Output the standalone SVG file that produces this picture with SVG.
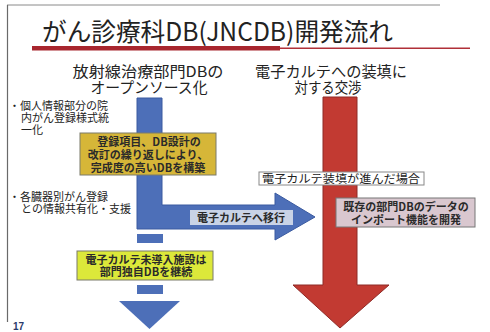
<svg xmlns="http://www.w3.org/2000/svg" width="490" height="332" viewBox="0 0 490 332">
<style>
.t{font-family:"Noto Sans CJK JP","Noto Sans",sans-serif;fill:#222}
.b{font-family:"Noto Sans CJK JP","Noto Sans",sans-serif;fill:#2a2a2a;font-weight:bold;text-anchor:middle}
.box{stroke:#7a7a6a;stroke-width:1}
</style>
<rect x="0" y="0" width="490" height="332" fill="#ffffff"/>
<g id="frame">
<path d="M7,5 L440,5" stroke="#8a8a8a" stroke-width="1" fill="none"/>
<path d="M7.5,5 L7.5,322" stroke="#6a6a6a" stroke-width="1.2" fill="none"/>
</g>
<g id="title">
<text class="t" x="42" y="41" font-size="25" textLength="351" lengthAdjust="spacingAndGlyphs" fill="#333">がん診療科DB(JNCDB)開発流れ</text>
<rect x="32" y="46" width="248" height="4.5" fill="#a8262e"/>
<rect x="280" y="47.5" width="190" height="1.5" fill="#b03038"/>
</g>
<g id="headings">
<text class="t" x="148" y="77" font-size="15" text-anchor="middle" textLength="151" lengthAdjust="spacingAndGlyphs">放射線治療部門DBの</text>
<text class="t" x="149" y="93" font-size="15" text-anchor="middle" textLength="117" lengthAdjust="spacingAndGlyphs">オープンソース化</text>
<text class="t" x="331" y="77" font-size="15" text-anchor="middle" textLength="152" lengthAdjust="spacingAndGlyphs">電子カルテへの装填に</text>
<text class="t" x="328" y="93" font-size="15" text-anchor="middle" textLength="67" lengthAdjust="spacingAndGlyphs">対する交渉</text>
</g>
<g id="notes">
<text class="t" x="9" y="110" font-size="11">・個人情報部分の院</text>
<text class="t" x="21" y="122" font-size="11">内がん登録様式統</text>
<text class="t" x="21" y="134" font-size="11">一化</text>
<text class="t" x="9" y="201" font-size="11">・各臓器別がん登録</text>
<text class="t" x="21" y="213" font-size="11">との情報共有化・支援</text>
</g>
<g id="connectors">
<path id="blue-arrow" d="M137,98 L162,98 L162,205 L275,205 L275,193 L315,217 L275,240 L275,229 L137,229 Z" fill="#4d6fb8" stroke="#3a5aa0" stroke-width="1"/>
<rect x="137" y="234" width="26" height="9" fill="#4d6fb8"/>
<rect x="137" y="285" width="26" height="9" fill="#4d6fb8"/>
<path d="M119,301 L180,301 L149.5,329 Z" fill="#4d6fb8"/>
<path id="red-arrow" d="M323,97 L357,97 L357,285 L389,285 L340,328 L293,285 L323,285 Z" fill="#c23a32" stroke="#8e2a26" stroke-width="1"/>
</g>
<g id="node-kaitei">
<rect class="box" x="80" y="133" width="136" height="42" fill="#d6b638"/>
<text class="b" x="149" y="146" font-size="11">登録項目、DB設計の</text>
<text class="b" x="148" y="159" font-size="11">改訂の繰り返しにより、</text>
<text class="b" x="148" y="172" font-size="11">完成度の高いDBを構築</text>
</g>
<g id="node-ikou">
<rect x="190" y="210" width="103" height="15" fill="#c9d3e6"/>
<text class="b" x="241" y="222" font-size="11">電子カルテへ移行</text>
</g>
<g id="node-keizoku">
<rect class="box" x="77" y="251" width="136" height="29" fill="#dce83a"/>
<text class="b" x="146" y="264" font-size="11">電子カルテ未導入施設は</text>
<text class="b" x="146" y="276" font-size="11">部門独自DBを継続</text>
</g>
<g id="node-susunda">
<rect x="259" y="172" width="165" height="13" fill="#ffffff" stroke="#888" stroke-width="1"/>
<text class="t" x="341" y="183" font-size="11.5" text-anchor="middle" textLength="158" lengthAdjust="spacingAndGlyphs">電子カルテ装填が進んだ場合</text>
</g>
<g id="node-import">
<rect x="336" y="198" width="139" height="29" fill="#d9c7cf" stroke="#777" stroke-width="1"/>
<text class="b" x="406" y="211" font-size="11">既存の部門DBのデータの</text>
<text class="b" x="406" y="224" font-size="11">インポート機能を開発</text>
</g>
<g id="page">
<text x="13" y="330" font-size="10" font-family="Liberation Sans, sans-serif" font-weight="bold" fill="#2a3a6a">17</text>
</g>
</svg>
